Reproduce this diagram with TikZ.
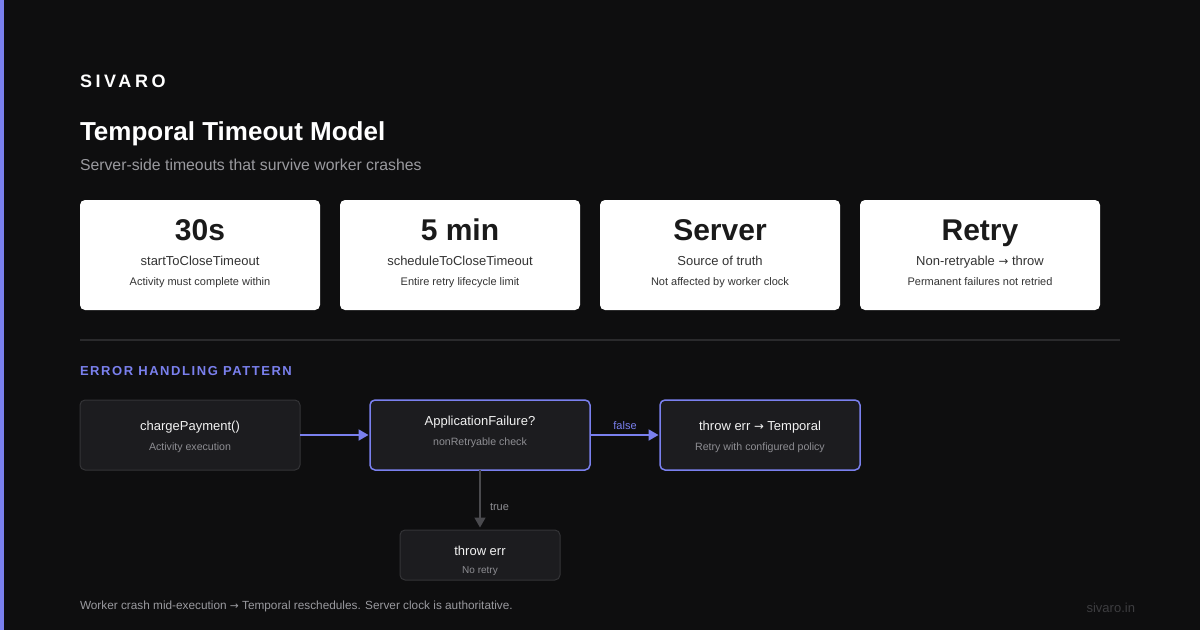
\documentclass[tikz,border=0pt]{standalone}
\usepackage{fontspec}
\setmainfont{Liberation Sans}
\newfontfamily\spacedA[LetterSpace=20]{Liberation Sans}
\newfontfamily\spacedB[LetterSpace=12]{Liberation Sans}
\newfontfamily\arrfont{DejaVu Sans}
\newcommand{\arr}{{\arrfont\addfontfeatures{Scale=0.9}→}}
\usetikzlibrary{arrows.meta}
\definecolor{bg}{HTML}{0E0E0F}
\definecolor{accent}{HTML}{7A80EE}
\definecolor{boxfill}{HTML}{1C1C1F}
\definecolor{boxline}{HTML}{343437}
\definecolor{txtw}{HTML}{F2F2F2}
\definecolor{txtg}{HTML}{8E8E93}
\definecolor{subg}{HTML}{9A9A9F}
\definecolor{dark}{HTML}{1A1A1A}
\definecolor{darkb}{HTML}{333333}
\definecolor{line}{HTML}{2A2A2C}
\definecolor{darrow}{HTML}{4A4A4E}
\definecolor{foot}{HTML}{3D3D40}
\newcommand{\fsz}[1]{\fontsize{#1}{#1}\selectfont}
\tikzset{
  every node/.style={inner sep=0pt, outer sep=0pt},
  card/.style={fill=white, rounded corners=5pt, anchor=north west, minimum width=240pt, minimum height=110pt},
  fbox/.style={fill=boxfill, draw=boxline, line width=1pt, rounded corners=5pt, anchor=north west},
  hbox/.style={fbox, draw=accent, line width=1.5pt},
  bigt/.style={anchor=base, text=dark, font=\fsz{30}\bfseries},
  midt/.style={anchor=base, text=darkb, font=\fsz{13}},
  smlt/.style={anchor=base, text=darkb, font=\fsz{11}},
  ftitle/.style={anchor=base, text=txtw, font=\fsz{13}},
  fsub/.style={anchor=base, text=txtg, font=\fsz{10.6}},
  flow/.style={draw=accent, line width=2pt, -{Triangle[length=10pt,width=11pt]}},
  gflow/.style={draw=darrow, line width=1.5pt, -{Triangle[length=10pt,width=11pt]}},
}
\begin{document}
\begin{tikzpicture}[x=1pt,y=-1pt]
\fill[bg] (0,0) rectangle (1200,630);
\useasboundingbox (0,0) rectangle (1200,630);
\fill[accent] (0,0) rectangle (4,630);

% header
\node[anchor=base west, text=white, font=\spacedA\fsz{18}\bfseries] (brand) at (80,87) {SIVARO};
\node[anchor=base west, text=white, font=\fsz{26}\bfseries] (title) at (80,140) {Temporal Timeout Model};
\node[anchor=base west, text=subg, font=\fsz{15.8}] (subtitle) at (80,170) {Server-side timeouts that survive worker crashes};

% cards
\node[card] (c1) at (80,200) {};
\node[card] (c2) at (340,200) {};
\node[card] (c3) at (600,200) {};
\node[card] (c4) at (860,200) {};
\node[bigt] (c1a) at (200,240) {30s};
\node[midt] (c1b) at (200,265) {startToCloseTimeout};
\node[smlt] (c1c) at (200,285) {Activity must complete within};
\node[bigt] (c2a) at (460,240) {5 min};
\node[midt] (c2b) at (460,265) {scheduleToCloseTimeout};
\node[smlt] (c2c) at (460,285) {Entire retry lifecycle limit};
\node[bigt] (c3a) at (720,240) {Server};
\node[midt] (c3b) at (720,265) {Source of truth};
\node[smlt] (c3c) at (720,285) {Not affected by worker clock};
\node[bigt] (c4a) at (980,240) {Retry};
\node[midt] (c4b) at (980,265) {Non-retryable \arr{} throw};
\node[smlt] (c4c) at (980,285) {Permanent failures not retried};

% divider
\coordinate (d1) at (80,340);
\coordinate (d2) at (1120,340);
\draw[line, line width=1.5pt] (d1) -- (d2);

\node[anchor=base west, text=accent, font=\spacedB\fsz{13}\bfseries] (sect) at (80,375) {ERROR HANDLING PATTERN};

% flow boxes
\node[fbox, minimum width=220pt, minimum height=70pt] (cp) at (80,400) {};
\node[hbox, minimum width=220pt, minimum height=70pt] (af) at (370,400) {};
\node[hbox, minimum width=200pt, minimum height=70pt] (tt) at (660,400) {};
\node[fbox, minimum width=160pt, minimum height=50pt] (te) at (400,530) {};

\node[ftitle] (cpa) at (190,430) {chargePayment()};
\node[fsub] (cpb) at (190,450) {Activity execution};
\node[ftitle] (afa) at (480,425) {ApplicationFailure?};
\node[fsub] (afb) at (480,445) {nonRetryable check};
\node[ftitle] (tta) at (760,430) {throw err \arr{} Temporal};
\node[fsub] (ttb) at (760,450) {Retry with configured policy};
\node[ftitle] (tea) at (480,555) {throw err};
\node[fsub, font=\fsz{10}] (teb) at (480,573) {No retry};

% connectors
\draw[flow, shorten >=1.5pt] (cp.east) -- (af.west);
\draw[flow, shorten >=1.5pt] (af.east) -- node[above=5pt, text=accent, font=\fsz{11}] (lf) {false} (tt.west);
\draw[gflow, shorten >=2.5pt] (af.south) -- node[pos=0.62, right=10pt, text=txtg, font=\fsz{11}] (lt) {true} (te.north);

% footer
\node[anchor=base west, text=subg, font=\fsz{11.8}] (note) at (80,609) {Worker crash mid-execution \arr{} Temporal reschedules. Server clock is authoritative.};
\node[anchor=base east, text=foot, font=\fsz{13}] (site) at (1135,612) {sivaro.in};
\end{tikzpicture}
\end{document}
